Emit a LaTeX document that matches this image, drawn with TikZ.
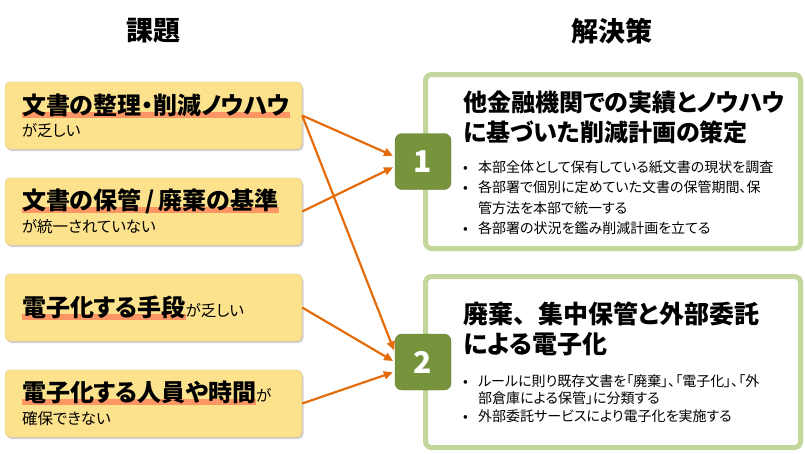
\documentclass[tikz,border=0pt]{standalone}
\usepackage{fontspec}
\usetikzlibrary{positioning,arrows.meta,shadows}
\newfontfamily\jp[RawFeature=+palt]{Noto Sans CJK JP}
\definecolor{probfill}{RGB}{252,226,140}
\definecolor{probline}{RGB}{226,200,120}
\definecolor{hlcol}{RGB}{252,150,100}
\definecolor{solline}{RGB}{195,214,155}
\definecolor{numfill}{RGB}{119,147,60}
\definecolor{numline}{RGB}{100,125,50}
\definecolor{arrcol}{RGB}{228,108,10}
\setlength\parindent{0pt}
\newcommand\bigj{\fontsize{24}{24}\selectfont\bfseries}
\newcommand\hlmark[1]{\setbox0\hbox{#1}\rlap{\color{hlcol}\rule[-3.5pt]{\wd0}{6pt}}\box0}
\newcommand\bul[1]{\par\hangindent=15pt\hangafter=1\noindent\hbox to 15pt{•\hfil}#1}

\begin{document}
\begin{tikzpicture} [x = 1pt, y = -1pt, font = \jp, node distance = 96pt, on grid,
    prob/.style = {draw = probline, fill = probfill, rounded corners = 5pt,
        minimum width = 297pt, minimum height = 67pt, text width = 263pt,
        inner xsep = 17pt, align = left, font = \jp\fontsize{15.5}{22.5}\selectfont,
        drop shadow = {shadow xshift = 1.5pt, shadow yshift = -2pt, opacity = .3, fill = black!60}},
    sol/.style = {draw = solline, line width = 5pt, fill = white, rounded corners = 6pt,
        minimum width = 375pt},
    num/.style = {fill = numfill, draw = numline, rounded corners = 7pt, minimum size = 56pt,
        text = white, font = \jp\fontsize{30}{30}\selectfont\bfseries},
    soltext/.style = {text width = 335pt, align = left, inner sep = 0pt},
    head/.style = {font = \jp\fontsize{27}{27}\selectfont\bfseries},
    arr/.style = {-{Triangle[length = 9pt, width = 8pt]}, line width = 2.2pt,
        draw = arrcol, shorten > = 2pt}]
\useasboundingbox (0,0) rectangle (805,453);

% headings
\node (hdl) [head] at (153,31) {課題};
\node (hdr) [head] at (612,31) {解決策};

% problems
\node (p1) [prob] at (153.5,115.5) {{\bigj\hlmark{文書の整理・削減ノウハウ}}\\が乏しい};
\node (p2) [prob, below = of p1] {{\bigj\hlmark{文書の保管\,/\,廃棄の基準}}\\が統一されていない};
\node (p3) [prob, below = of p2] {{\bigj\hlmark{電子化する手段}}が乏しい};
\node (p4) [prob, below = of p3] {{\bigj\hlmark{電子化する人員や時間}}が\\確保できない};

% solutions
\node (s1) [sol, minimum height = 174pt] at (613,161.5) {};
\node (s2) [sol, minimum height = 171pt] at (613,362) {};
\node (sq1) [num] at (s1.west) {1};
\node (sq2) [num] at (s2.west) {2};

\node (t1) [soltext, on grid = false, below right = 19pt and 40pt of s1.north west] {%
    {\fontsize{24}{29.5}\selectfont\bfseries 他金融機関での実績とノウハウ\\に基づいた削減計画の策定\par}
    \vspace{10.5pt}
    {\fontsize{14}{20.5}\selectfont
    \bul{本部全体として保有している紙文書の現状を調査}
    \bul{各部署で個別に定めていた文書の保管期間、保\newline 管方法を本部で統一する}
    \bul{各部署の状況を鑑み削減計画を立てる}\par}};
\node (t2) [soltext, on grid = false, below right = 28pt and 40pt of s2.north west] {%
    {\fontsize{25}{30}\selectfont\bfseries 廃棄、\hspace{.5em}集中保管と外部委託\\による電子化\par}
    \vspace{15pt}
    {\fontsize{14}{17.5}\selectfont
    \bul{ルールに則り既存文書を「廃棄」、「電子化」、「外\newline 部倉庫による保管」に分類する}
    \bul{外部委託サービスにより電子化を実施する}\par}};

\path
    (p1.east) edge [arr] (sq1.170)
    (p1.east) edge [arr] (sq2.161)
    (p2.east) edge [arr] (sq1.190)
    (p3.east) edge [arr] (sq2.180)
    (p4.east) edge [arr] (sq2.199);
\end{tikzpicture}
\end{document}
